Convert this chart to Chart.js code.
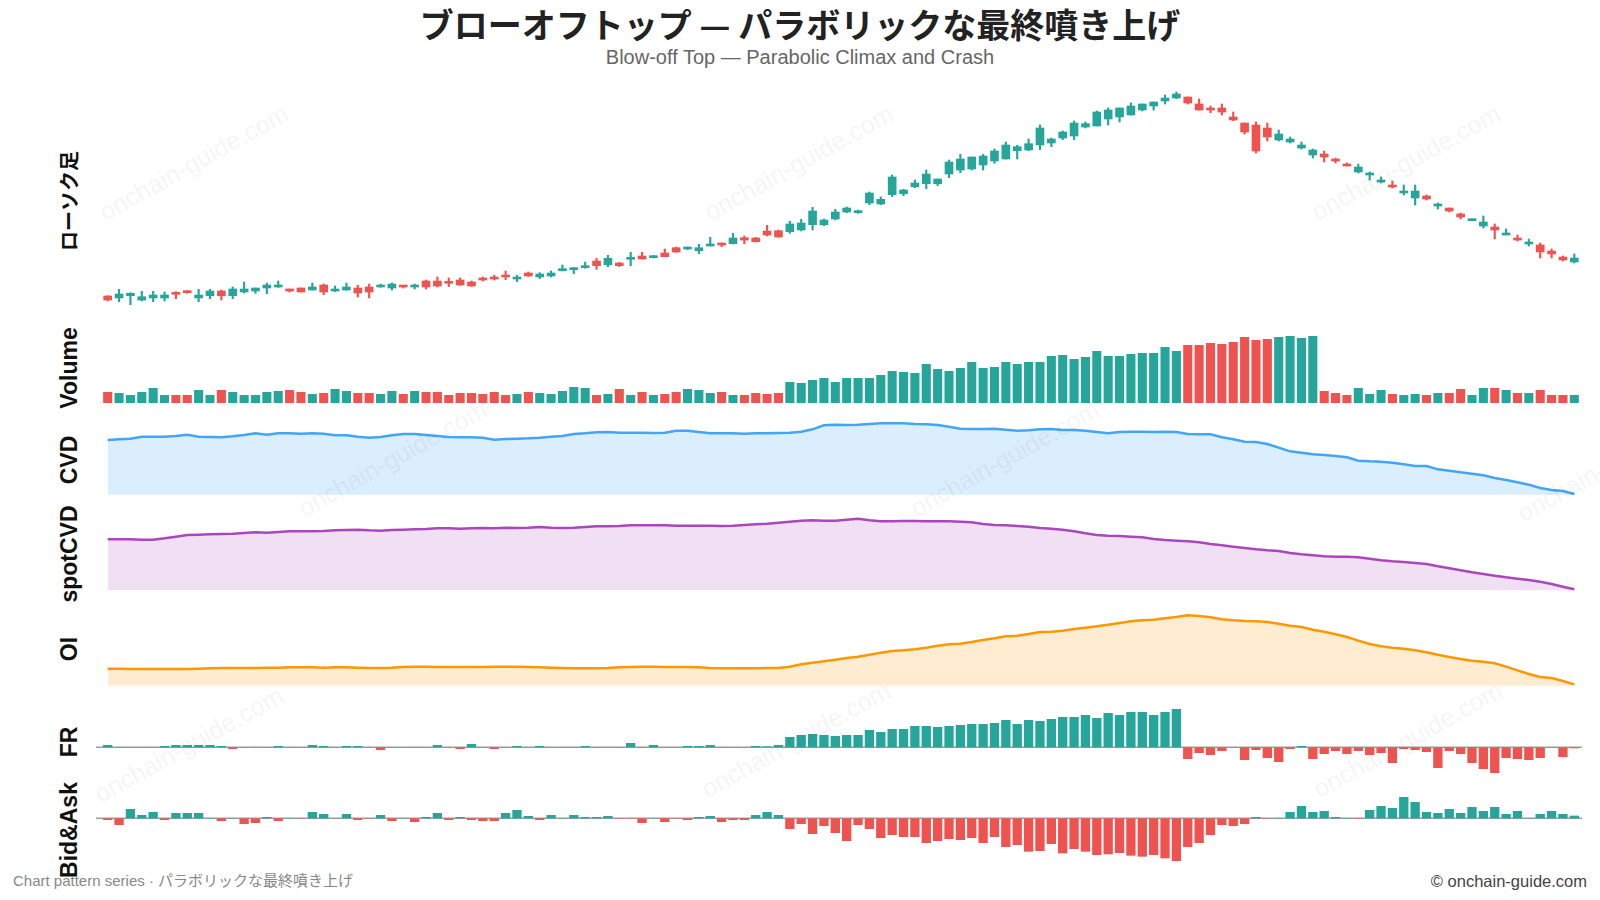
<!DOCTYPE html>
<html>
<head>
<meta charset="utf-8">
<script src="https://cdn.jsdelivr.net/npm/chart.js"></script>
<style>
  body { margin: 0; background: #fff; }
  #page { position: relative; width: 1600px; height: 900px; overflow: hidden; background: #fff;
          font-family: "Liberation Sans", "Noto Sans CJK JP", sans-serif; }
  canvas { position: absolute; }
  .title { position: absolute; left: 0; width: 1600px; text-align: center; top: 3px;
           font: bold 34px "Noto Sans CJK JP", sans-serif; color: #222; line-height: 42px; }
  .sub { position: absolute; left: 0; width: 1600px; text-align: center; top: 45px;
         font: 20px "Liberation Sans", "Noto Sans CJK JP", sans-serif; color: #666; line-height: 24px; }
  .lab { position: absolute; left: 69px; font: bold 23px "Liberation Sans", "Noto Sans CJK JP", sans-serif; color: #111;
         transform: translate(-50%, -50%) rotate(-90deg); white-space: nowrap; line-height: 26px; }
  .foot { position: absolute; top: 871px; font-size: 15px; line-height: 20px; white-space: nowrap; }
  .wm { position: absolute; font: 25px "Liberation Sans", sans-serif; color: rgba(0,0,0,0.045);
        transform: translate(-50%, -50%) rotate(-29deg); white-space: nowrap; pointer-events: none; z-index: 5; }
</style>
</head>
<body>
<div id="page">
  <div class="title">ブローオフトップ — パラボリックな最終噴き上げ</div>
  <div class="sub">Blow-off Top — Parabolic Climax and Crash</div>

  <canvas id="candle" width="1478" height="230" style="left:102px;top:80px"></canvas>
  <canvas id="volume" width="1478" height="78" style="left:102px;top:325px"></canvas>
  <canvas id="cvd" width="1478" height="86" style="left:102px;top:410px"></canvas>
  <canvas id="spot" width="1478" height="92" style="left:102px;top:500px"></canvas>
  <canvas id="oi" width="1478" height="92" style="left:102px;top:596px"></canvas>
  <canvas id="fr" width="1500" height="88" style="left:90px;top:692px"></canvas>
  <canvas id="ba" width="1500" height="83" style="left:90px;top:785px"></canvas>

  <div class="lab" style="top:201px;font-family:'Noto Sans CJK JP',sans-serif;font-size:20px">ローソク足</div>
  <div class="lab" style="top:368px">Volume</div>
  <div class="lab" style="top:460px">CVD</div>
  <div class="lab" style="top:554px">spotCVD</div>
  <div class="lab" style="top:649px">OI</div>
  <div class="lab" style="top:742px">FR</div>
  <div class="lab" style="top:830px">Bid&amp;Ask</div>

  <div class="foot" style="left:13px;color:#888">Chart pattern series · パラボリックな最終噴き上げ</div>
  <div class="foot" style="right:13px;color:#444;font-size:16.5px">© onchain-guide.com</div>

  <div class="wm" style="left:194px;top:163px">onchain-guide.com</div>
  <div class="wm" style="left:799px;top:163px">onchain-guide.com</div>
  <div class="wm" style="left:1406px;top:163px">onchain-guide.com</div>
  <div class="wm" style="left:393px;top:459px">onchain-guide.com</div>
  <div class="wm" style="left:1005px;top:459px">onchain-guide.com</div>
  <div class="wm" style="left:1612px;top:464px">onchain-guide.com</div>
  <div class="wm" style="left:189px;top:745px">onchain-guide.com</div>
  <div class="wm" style="left:796px;top:740px">onchain-guide.com</div>
  <div class="wm" style="left:1408px;top:740px">onchain-guide.com</div>
</div>

<script>
// price candles (O/H/L/C)
const open = [24,22,24.3,20,22,22,26.7,28.3,22,24.3, 29,24.3,28,29,32,33,31,32,30,35,
  29,30,32,33,33,32,34,33,39,39, 37.3,40,38,42,42,44,41,47,43,44,
  49.3,50.3,52.3,59,55.3,57,60.7,64,62.3,67, 72.3,71,69.3,74,77,76.3,82.3,82,89,89.3,
  88.3,90,95.3,95.3,101,108,107.3,117,116,125.3, 126.3,133.3,136.3,136.3,146,150,151,155,159,161,
  169.3,170,175,177,182,184,193,194,201,203, 205,210,214,219,222,223,216,212,212,203,
  197,195,192,180,178,172,165,166,160.7,155.3, 148,145,138,135,127,122,124,114,112,106,
  99.3,94,93,85,82,76,75,69,63,58];
const high = [24.3,30.7,27.3,28.7,28.7,28,28.3,29.3,30.7,30.7, 30,33,38,32,37,39,31,32,37,36,
  34,37,34.7,36,36,37,34,36,40,43, 42,42,39,43,44.7,49,44.7,48,47.3,49,
  55,52.3,58,61.7,64.7,57.7,67.7,67.7,64.7,71, 73,73,75.7,82.7,77,86.7,84,82.7,94.7,90,
  98.7,100.7,112.7,101,110.7,113,110,128,123,145, 130.7,140,150,141,160,165.7,163,165.7,171,178,
  174.7,181,195,182,189,199,198,209,212,212, 217,216,218,225,228,223,221,214,216,208,
  197,198,197,190,183,178,171,169,162,157, 156,148,143,139,135,135,125,117,112,107,
  101,104,96,91,85,81,77,71,64,66];
const low = [19,18.3,15.3,19,18.3,19,21.3,26.7,18.3,21.3, 20,21.3,27,26.7,26.3,32.7,28,28,30,25.3,
  28.3,29.7,23,22,32.7,30,32,31,31,33, 33.3,34.7,33.7,39,40,40.3,38.3,43.7,41.3,43,
  49,46.3,51.7,50.7,53.3,53.3,54.3,61,62,63.3, 67.7,70.3,66.3,74,73.3,76,76.3,78,84,83,
  86.7,89,90,94.3,100,107.3,106.7,115.3,115.3,123.3, 124.3,132.3,131.3,134.3,142.3,147.3,150,150,156.7,161,
  161,169.3,170.3,173.3,180.3,180.3,192,194,195,198, 205,209,210,216,221.3,216,210,207.3,205,199.3,
  186,167,179,179,177,171,162,158,157,154, 147,140,137,132,125,115,120,111,108,101,
  99.3,92,81,85,79,74,62,62,59,57];
const close = [20,26,26.7,23.3,25,25,25.7,27.3,25,29, 24.3,31,31,32,35,35,29,28,33,28,
  31,33,27,28,35,36,33,35,33,34, 36.7,35,34,40,41,43,42,44,46,47,
  51,51,54,54.3,61.7,54.3,62.3,61,64,63.3, 68,72.3,72.3,74.7,75,82,80,78.3,85,83,
  96,97,109,100,108,112,109,127,120.7,143, 130,137,146,141,158,161,163,164,169,175,
  173.3,176.3,192,181,188,197,196.3,208,210,212, 214,216,218,222,226,217,210,210,208,200,
  188,169,183,186,181,175,170,163,159,154, 153,147,140,133,129,129,121,116,109,103,
  101,98,90,86,80,77,68,66,60,62];

// lower panels, same units
const volume = [33,30,24,33,45,24,24,24,39,24, 39,33,24,24,33,36,39,33,27,30,
  42,36,30,30,27,36,27,36,33,33, 24,30,30,27,33,24,27,33,30,27,
  36,48,45,24,27,42,24,33,24,27, 33,42,39,30,33,24,24,30,27,30,
  63,60,69,75,63,75,75,75,84,96, 93,90,117,102,96,105,123,105,108,123,
  117,123,123,141,144,132,138,156,141,141, 147,150,150,168,156,174,174,180,177,183,
  198,189,192,198,201,195,201,36,30,24, 45,27,39,27,24,27,24,30,30,42,
  24,45,45,39,30,30,39,24,24,24];
const cvd = [180,182,184,190,190,190,192,196,190,189, 188,191,195,200,196,200,200,199,200,199,
  194,194,190,187,189,194,198,198,195,192, 189,188,188,187,181,183,184,185,187,190,
  192,198,200,203,204,202,202,202,201,202, 208,208,204,200,200,200,199,200,200,201,
  202,205,212,224,226,225,226,228,230,230, 230,228,227,225,220,214,213,213,214,211,
  208,209,212,213,210,210,208,204,200,204, 205,205,204,205,204,198,197,197,188,182,
  175,174,168,157,146,142,137,135,132,128, 118,116,115,112,107,102,102,92,88,83,
  79,74,66,60,53,46,36,30,27,18];
const spotCvd = [182,182,182,181,181,185,190,195,196,197, 198,199,201,203,202,204,206,206,206,207,
  209,210,211,209,208,210,211,212,213,215, 215,214,215,216,215,217,216,217,219,217,
  216,217,219,221,221,222,224,224,224,224, 223,223,223,223,222,223,225,227,229,232,
  235,238,239,238,238,241,244,239,236,236, 237,237,236,236,236,235,233,228,225,224,
  222,220,216,214,211,206,200,195,193,192, 190,188,183,180,178,176,173,168,164,160,
  156,152,149,147,141,137,134,131,130,130, 128,124,119,116,114,111,108,101,95,89,
  83,78,73,68,64,60,55,48,40,32];
const oi = [94,94,93,93,93,93,93,93,94,95, 96,96,96,96,97,97,98,98,98,97,
  98,98,97,96,96,97,99,100,100,99, 99,99,99,99,100,100,100,99,98,97,
  96,95,95,95,96,98,99,100,100,99, 99,99,98,96,95,95,95,95,96,96,
  100,107,112,116,121,126,130,136,142,147, 149,152,157,163,167,169,174,180,185,191,
  193,198,204,205,208,213,217,221,226,231, 236,239,241,245,249,254,252,248,242,239,
  237,236,234,229,223,219,211,205,197,189, 178,168,161,157,154,149,143,136,129,123,
  118,115,110,100,89,78,69,66,57,47];
const fr = [7,-1,-1,-1,-1,4,7,7,7,7, 4,-5,-1,-1,-1,4,-1,-1,7,4,
  -1,4,4,-1,-8,-1,-1,-1,-1,7, -1,-5,10,-1,-5,-1,4,-1,4,-1,
  -1,-1,4,-1,-1,-1,13,-1,7,-1, -1,4,4,7,-1,-1,-1,4,3,7,
  31,37,40,37,34,37,37,52,46,55, 55,64,64,61,64,67,70,70,73,82,
  70,82,79,85,91,91,97,88,103,97, 106,106,97,106,115,-35,-17,-23,-11,-1,
  -38,-8,-32,-44,-5,4,-35,-20,-11,-20, -11,-23,-17,-47,-5,-8,-14,-62,-11,-20,
  -47,-65,-77,-32,-35,-38,-32,-1,-29,-3];
const bidAsk = [-5,-20,28,10,19,-5,16,16,16,1, -8,1,-17,-14,4,-8,1,-1,19,13,
  1,13,-5,-1,10,-8,1,-11,4,16, -5,4,-5,-8,-8,16,25,7,-5,10,
  1,10,4,4,7,-1,-1,-14,1,-11, -1,-5,4,7,-11,-5,-5,10,19,10,
  -32,-17,-47,-23,-44,-68,-20,-32,-59,-50, -56,-56,-74,-68,-62,-65,-59,-74,-56,-86,
  -80,-100,-98,-77,-105,-92,-100,-110,-108,-104, -112,-115,-110,-120,-128,-86,-74,-50,-20,-23,
  -17,4,-1,1,19,37,19,22,4,1, -1,25,37,31,64,49,19,16,28,16,
  34,22,34,13,22,1,13,22,13,8];
const days = close.map((c, i) => "D" + (i + 1));

const UP = "#26a69a";
const DOWN = "#ef5350";
const candleColors = close.map((c, i) => c >= open[i] ? UP : DOWN);
const signColors = v => v.map(x => x >= 0 ? UP : DOWN);

const zeroLine = {
  id: "zeroLine",
  beforeDatasetsDraw(chart) {
    const ctx = chart.ctx;
    const y = chart.scales.y.getPixelForValue(0);
    ctx.save();
    ctx.strokeStyle = "#9e9e9e";
    ctx.lineWidth = 1.5;
    ctx.beginPath();
    ctx.moveTo(chart.chartArea.left - 6, y);
    ctx.lineTo(chart.chartArea.right + 2, y);
    ctx.stroke();
    ctx.restore();
  }
};

function baseOptions(yMin, yMax, padding) {
  return {
    animation: false,
    responsive: false,
    devicePixelRatio: 1,
    layout: { padding: padding || 0 },
    plugins: { legend: { display: false }, tooltip: { enabled: false } },
    scales: {
      x: { display: false, offset: true },
      y: { display: false, min: yMin, max: yMax }
    }
  };
}

new Chart("candle", {
  type: "bar",
  data: {
    labels: days,
    datasets: [
      { data: open.map((o, i) => [o, close[i]]), backgroundColor: candleColors,
        barThickness: 8, grouped: false, minBarLength: 2, order: 0 },
      { data: low.map((l, i) => [l, high[i]]), backgroundColor: candleColors,
        barThickness: 1.5, grouped: false, order: 1 }
    ]
  },
  options: baseOptions(10, 240)
});

new Chart("volume", {
  type: "bar",
  data: {
    labels: days,
    datasets: [{ data: volume, backgroundColor: candleColors, barPercentage: 0.8, categoryPercentage: 1 }]
  },
  options: baseOptions(0, 234)
});

function areaChart(id, values, color, fillColor, base, yMin, yMax) {
  new Chart(id, {
    type: "line",
    data: {
      labels: days,
      datasets: [{
        data: values, borderColor: color, borderWidth: 2.5, pointRadius: 0, tension: 0,
        fill: { value: base }, backgroundColor: fillColor
      }]
    },
    options: baseOptions(yMin, yMax)
  });
}
areaChart("cvd", cvd, "#42a5f5", "rgba(66,165,245,0.19)", 16, 12, 270);
areaChart("spot", spotCvd, "#ab47bc", "rgba(171,71,188,0.17)", 29, 24, 300);
areaChart("oi", oi, "#ff9800", "rgba(255,152,0,0.18)", 43, 36, 312);

new Chart("fr", {
  type: "bar",
  data: {
    labels: days,
    datasets: [{ data: fr, backgroundColor: signColors(fr), barPercentage: 0.82, categoryPercentage: 1 }]
  },
  options: baseOptions(-98, 166, { left: 12, right: 10 }),
  plugins: [zeroLine]
});

new Chart("ba", {
  type: "bar",
  data: {
    labels: days,
    datasets: [{ data: bidAsk, backgroundColor: signColors(bidAsk), barPercentage: 0.82, categoryPercentage: 1 }]
  },
  options: baseOptions(-149, 100, { left: 12, right: 10 }),
  plugins: [zeroLine]
});
</script>
</body>
</html>
